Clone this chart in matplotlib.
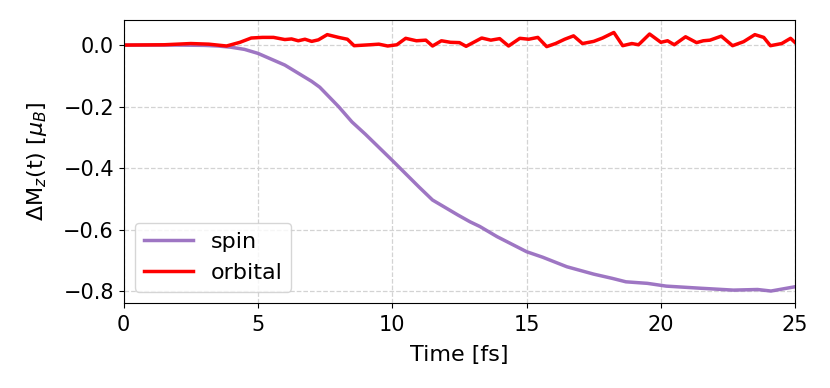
import matplotlib
matplotlib.use('Agg')
import matplotlib.pyplot as plt
import numpy as np

# Spin moment change
t_spin = [0, 1, 2, 3, 3.5, 4, 4.5, 5, 6, 7, 7.3, 8, 8.5, 9, 10, 11, 11.5, 12.45,
          12.9, 13.26, 13.9, 15.0, 15.6, 16.5, 17.5, 18.2, 18.7, 19.5, 20.2,
          21.5, 22.7, 23.6, 24.1, 25]
spin = [0, 0, 0, -0.001, -0.003, -0.007, -0.014, -0.027, -0.065, -0.118, -0.137,
        -0.2, -0.25, -0.29, -0.375, -0.462, -0.504, -0.553, -0.575, -0.59, -0.623,
        -0.672, -0.69, -0.721, -0.745, -0.759, -0.77, -0.775, -0.784, -0.791,
        -0.797, -0.795, -0.8, -0.786]

# Orbital moment change
t_orb = [0, 1.5, 2.5, 3.17, 3.83, 4.33, 4.75, 5.17, 5.58, 6, 6.25, 6.5, 6.75, 7,
         7.25, 7.58, 8, 8.33, 8.58, 9.17, 9.5, 9.83, 10.17, 10.5, 10.9, 11.25,
         11.5, 11.83, 12.17, 12.5, 12.75, 13.33, 13.67, 14, 14.33, 14.75, 15.08,
         15.42, 15.75, 16.08, 16.42, 16.75, 17.08, 17.5, 17.83, 18.25, 18.58,
         18.92, 19.17, 19.58, 20, 20.25, 20.5, 20.92, 21.33, 21.58, 21.83, 22.25,
         22.67, 23.08, 23.5, 23.83, 24.08, 24.5, 24.83, 25]
orbital = [0, 0.001, 0.005, 0.003, -0.003, 0.009, 0.023, 0.025, 0.025, 0.018,
           0.02, 0.014, 0.019, 0.012, 0.017, 0.034, 0.025, 0.019, -0.002, 0.001,
           0.003, -0.003, 0.001, 0.022, 0.014, 0.016, -0.003, 0.014, 0.009, 0.008,
           -0.004, 0.023, 0.016, 0.021, -0.003, 0.022, 0.019, 0.025, -0.005,
           0.005, 0.019, 0.03, 0.005, 0.012, 0.023, 0.041, -0.002, 0.005, 0.001,
           0.036, 0.009, 0.014, 0.001, 0.027, 0.008, 0.014, 0.016, 0.029, -0.002,
           0.011, 0.034, 0.025, -0.002, 0.005, 0.022, 0.008]

fig = plt.figure(figsize=(8.3, 3.88), dpi=100)
ax = fig.add_axes([0.149, 0.219, 0.809, 0.729])

ax.plot(t_spin, spin, color='#9467bd', alpha=0.9, lw=2.5, label='spin')
ax.plot(t_orb, orbital, color='red', lw=2.5, label='orbital')

ax.set_xlim(0, 25)
ax.set_ylim(-0.839, 0.081)
ax.set_xticks([0, 5, 10, 15, 20, 25])
ax.set_yticks([0.0, -0.2, -0.4, -0.6, -0.8])
ax.tick_params(labelsize=15)
ax.tick_params(axis='x', pad=5)
ax.grid(True, linestyle='--', color='lightgray', linewidth=0.9)

ax.set_xlabel('Time [fs]', fontsize=16, labelpad=7)
ax.set_ylabel(r'$\Delta$M$_z$(t) [$\mu_B$]', fontsize=16, labelpad=10)
ax.legend(loc='lower left', fontsize=16, handlelength=2.2)

fig.savefig('out.png', dpi=100)
